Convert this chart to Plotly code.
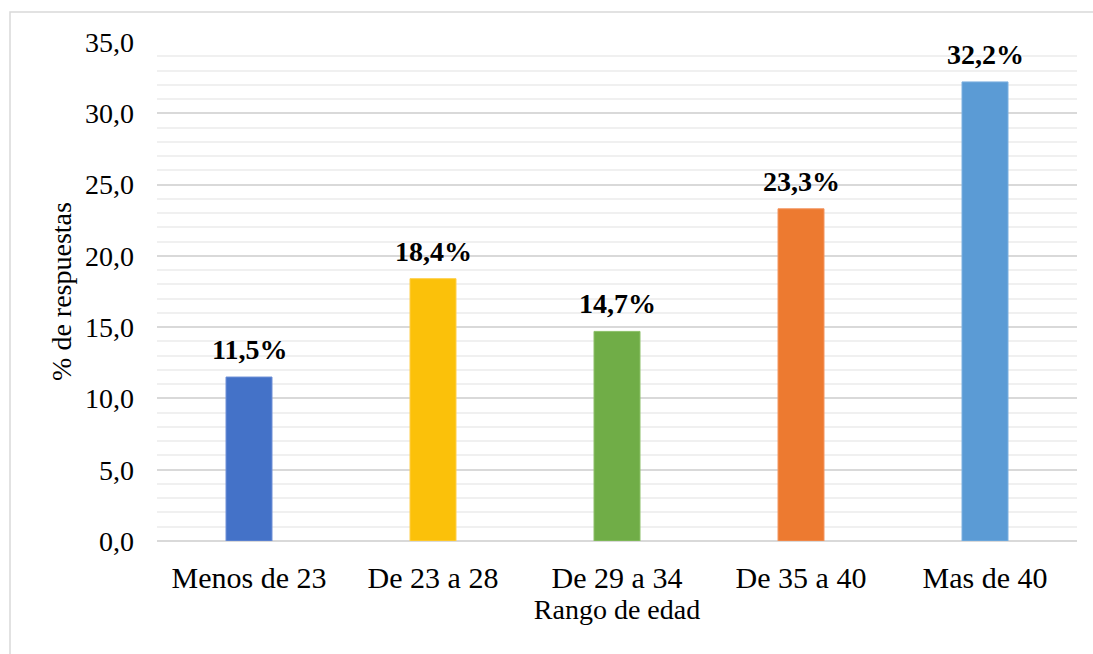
import plotly.graph_objects as go

categories = ["Menos de 23", "De 23 a 28", "De 29 a 34", "De 35 a 40", "Mas de 40"]
values = [11.5, 18.4, 14.7, 23.3, 32.2]
labels = ["11,5%", "18,4%", "14,7%", "23,3%", "32,2%"]
colors = ["#4472C8", "#FBC10A", "#70AD47", "#ED7A30", "#5B9BD5"]
edge_colors = ["#6E8FD6", "#FFCF4A", "#8CC069", "#F29560", "#7DB0E0"]
y_ticks = [0, 5, 10, 15, 20, 25, 30, 35]

FONT = "Liberation Serif, Times New Roman, serif"

fig = go.Figure()
fig.add_trace(go.Bar(
    x=categories, y=values,
    marker=dict(color=colors, line=dict(color=edge_colors, width=1)),
    width=0.25,
    hoverinfo="skip",
))

for c, v, t in zip(categories, values, labels):
    fig.add_annotation(x=c, y=v, text="<b>%s</b>" % t, showarrow=False,
                       yanchor="bottom", yshift=10,
                       font=dict(family=FONT, size=28, color="#000000"))

fig.update_layout(
    width=1093, height=654,
    margin=dict(l=157, r=16, t=42, b=113),
    paper_bgcolor="white", plot_bgcolor="white",
    separators=",.",
    showlegend=False,
    font=dict(family=FONT, size=28, color="#000000"),
    xaxis=dict(
        title=dict(text="Rango de edad", font=dict(family=FONT, size=28), standoff=6),
        tickfont=dict(family=FONT, size=30),
        showgrid=False, showline=False, ticks="",
        ticklabelstandoff=16,
    ),
    yaxis=dict(
        title=dict(text="% de respuestas", font=dict(family=FONT, size=28), standoff=5),
        tickfont=dict(family=FONT, size=28),
        range=[0, 35], tickvals=y_ticks, tickformat=".1f",
        showgrid=True, gridcolor="#D9D9D9", gridwidth=1.5,
        minor=dict(dtick=1, showgrid=True, gridcolor="#F0F0F0", gridwidth=1.5),
        zeroline=True, zerolinecolor="#D9D9D9", zerolinewidth=1.5,
        showline=False, ticks="",
        ticklabelstandoff=22,
    ),
)

fig.add_shape(type="rect", xref="paper", yref="paper",
              x0=-147 / 920, x1=1.2, y0=-0.5, y1=1 + 30 / 499,
              line=dict(color="#D9D9D9", width=1.5), fillcolor="rgba(0,0,0,0)",
              layer="below")

fig.write_html("out.html")
